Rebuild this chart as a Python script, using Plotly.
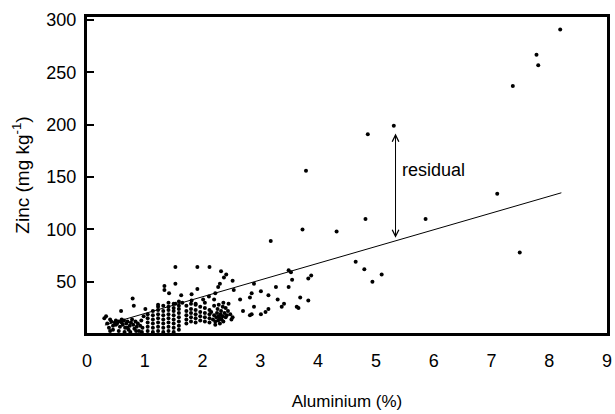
import plotly.graph_objects as go

# Outlying / scattered points (Aluminium %, Zinc mg/kg)
out_x = [8.19, 7.78, 7.81, 7.37, 5.31, 4.86, 3.79, 7.10, 4.82, 5.86, 3.73, 4.32, 3.18, 7.49,
         4.65, 4.80, 5.10, 4.94, 3.88, 3.83, 3.49, 3.53, 3.55, 3.49, 3.27, 2.89, 2.85, 2.82,
         2.65, 2.89, 3.01, 3.14, 3.30, 3.41, 3.37, 3.69, 3.83, 3.63, 3.66, 3.14, 3.09, 3.01,
         2.85, 2.82, 2.70, 2.52, 2.54, 2.41, 2.32, 2.37, 2.30, 2.27, 2.12, 1.91, 1.53, 1.53,
         1.34, 1.34, 1.42, 1.63, 1.81, 1.91, 2.01, 2.11, 2.22, 2.20, 0.79, 0.81, 0.59, 1.01,
         1.23, 1.53, 1.65, 1.81, 1.88]
out_y = [291, 267, 257, 237, 199, 191, 156, 134, 110, 110, 100, 98, 89, 78,
         69, 62, 57, 50, 56, 53, 61, 59, 52, 45, 45, 48, 39, 35,
         33, 26, 41, 37, 33, 29, 26, 35, 32, 26, 25, 24, 21, 19,
         19, 18, 22, 51, 42, 57, 60, 54, 48, 45, 64, 64, 64, 48,
         46, 42, 39, 37, 38, 43, 33, 36, 39, 33, 34, 27, 22, 24,
         28, 29, 30, 32, 29]

# Dense low-aluminium cluster
low_x = [0.30, 0.33, 0.35, 0.38, 0.40, 0.42, 0.45, 0.48, 0.50, 0.52, 0.55, 0.57, 0.60, 0.62,
         0.64, 0.66, 0.68, 0.70, 0.72, 0.74, 0.76, 0.78, 0.80, 0.82, 0.84, 0.86, 0.88, 0.90,
         0.92, 0.94, 0.96, 0.98, 0.45, 0.55, 0.65, 0.75, 0.85, 0.95, 0.60, 0.70, 0.50, 0.40]
low_y = [15, 17, 10, 6, 3, 12, 8, 11, 13, 10, 12, 7, 11, 9,
         13, 6, 10, 12, 4, 8, 11, 14, 9, 5, 12, 7, 10, 3,
         8, 13, 6, 17, 4, 3, 2, 2, 3, 2, 14, 6, 9, 14]

# Column-like cluster (x ~1.0-2.1)
col_x = [1.05, 1.05, 1.05, 1.05, 1.05,
         1.14, 1.14, 1.14, 1.14, 1.14, 1.14,
         1.23, 1.23, 1.23, 1.23, 1.23, 1.23, 1.23,
         1.32, 1.32, 1.32, 1.32, 1.32, 1.32, 1.32,
         1.41, 1.41, 1.41, 1.41, 1.41, 1.41, 1.41, 1.41,
         1.50, 1.50, 1.50, 1.50, 1.50, 1.50, 1.50, 1.50,
         1.59, 1.59, 1.59, 1.59, 1.59, 1.59, 1.59, 1.59,
         1.72, 1.72, 1.72, 1.72, 1.72,
         1.80, 1.80, 1.80, 1.80, 1.80,
         1.88, 1.88, 1.88, 1.88, 1.88,
         1.96, 1.96, 1.96, 1.96,
         2.04, 2.04, 2.04, 2.04, 2.04,
         2.12, 2.12, 2.12, 2.12]
col_y = [3, 7, 11, 15, 19,
         2, 6, 10, 14, 18, 22,
         3, 7, 11, 15, 19, 23, 26,
         2, 6, 10, 14, 18, 22, 27,
         3, 7, 11, 15, 19, 23, 26, 30,
         2, 6, 10, 14, 18, 22, 25, 29,
         4, 8, 12, 16, 20, 24, 27, 31,
         10, 14, 18, 22, 27,
         12, 16, 20, 24, 29,
         11, 15, 19, 23, 28,
         13, 17, 21, 26,
         12, 16, 20, 25, 30,
         11, 15, 19, 23]

# Blob near x ~2.3
blob_x = [2.18, 2.20, 2.22, 2.24, 2.25, 2.27, 2.28, 2.30, 2.31, 2.32, 2.33, 2.35, 2.36, 2.38,
          2.40, 2.42, 2.22, 2.30, 2.26, 2.35, 2.40, 2.44, 2.50, 2.52, 2.48, 2.20, 2.28, 2.36,
          2.45, 2.15]
blob_y = [14, 18, 12, 16, 20, 13, 17, 15, 19, 22, 14, 17, 12, 20,
          16, 18, 9, 10, 24, 26, 25, 22, 14, 16, 19, 27, 28, 30,
          29, 21]

# Regression line end points
line_x = [0.31, 8.21]
line_y = [8.6, 135]

x_ticks = [0, 1, 2, 3, 4, 5, 6, 7, 8, 9]
y_ticks = [50, 100, 150, 200, 250, 300]

# Residual arrow (data coordinates)
res_x = 5.34
res_top = 193
res_bottom = 92

xs = out_x + low_x + col_x + blob_x
ys = out_y + low_y + col_y + blob_y

FONT = "Liberation Sans, Arial, sans-serif"

fig = go.Figure()
fig.add_trace(go.Scatter(x=xs, y=ys, mode="markers",
                         marker=dict(color="black", size=4, symbol="circle"),
                         hoverinfo="x+y", showlegend=False))
fig.add_trace(go.Scatter(x=line_x, y=line_y, mode="lines",
                         line=dict(color="black", width=1), showlegend=False))

fig.add_annotation(x=res_x, y=res_bottom, ax=res_x, ay=res_top, xref="x", yref="y",
                   axref="x", ayref="y", text="", showarrow=True,
                   arrowside="end+start", arrowhead=5, startarrowhead=5,
                   arrowsize=1.3, startarrowsize=1.3, arrowwidth=1, arrowcolor="black")
fig.add_annotation(x=5.42, y=157, xref="x", yref="y", text="residual", showarrow=False,
                   xanchor="left", yanchor="middle",
                   font=dict(family=FONT, size=18, color="black"))

fig.update_layout(
    width=615, height=414,
    margin=dict(l=87, r=3, t=17, b=81),
    paper_bgcolor="white", plot_bgcolor="white",
    font=dict(family=FONT, color="black"),
)
fig.update_xaxes(range=[0, 9], tickvals=x_ticks, ticktext=[str(v) for v in x_ticks],
                 showgrid=False, zeroline=False, showline=True, mirror=True,
                 linecolor="black", linewidth=3, ticks="",
                 tickfont=dict(family=FONT, size=18), ticklabelstandoff=9,
                 title=dict(text="Aluminium (%)", font=dict(family=FONT, size=17), standoff=26))
fig.update_yaxes(range=[1, 303], tickvals=y_ticks, ticktext=[str(v) for v in y_ticks],
                 showgrid=False, zeroline=False, showline=True, mirror=True,
                 linecolor="black", linewidth=3, ticks="inside", ticklen=7, tickwidth=1.5,
                 tickcolor="black",
                 tickfont=dict(family=FONT, size=18), ticklabelstandoff=4,
                 title=dict(text="Zinc (mg kg<sup>-1</sup>)", font=dict(family=FONT, size=19),
                            standoff=12))

fig.write_html("out.html")
